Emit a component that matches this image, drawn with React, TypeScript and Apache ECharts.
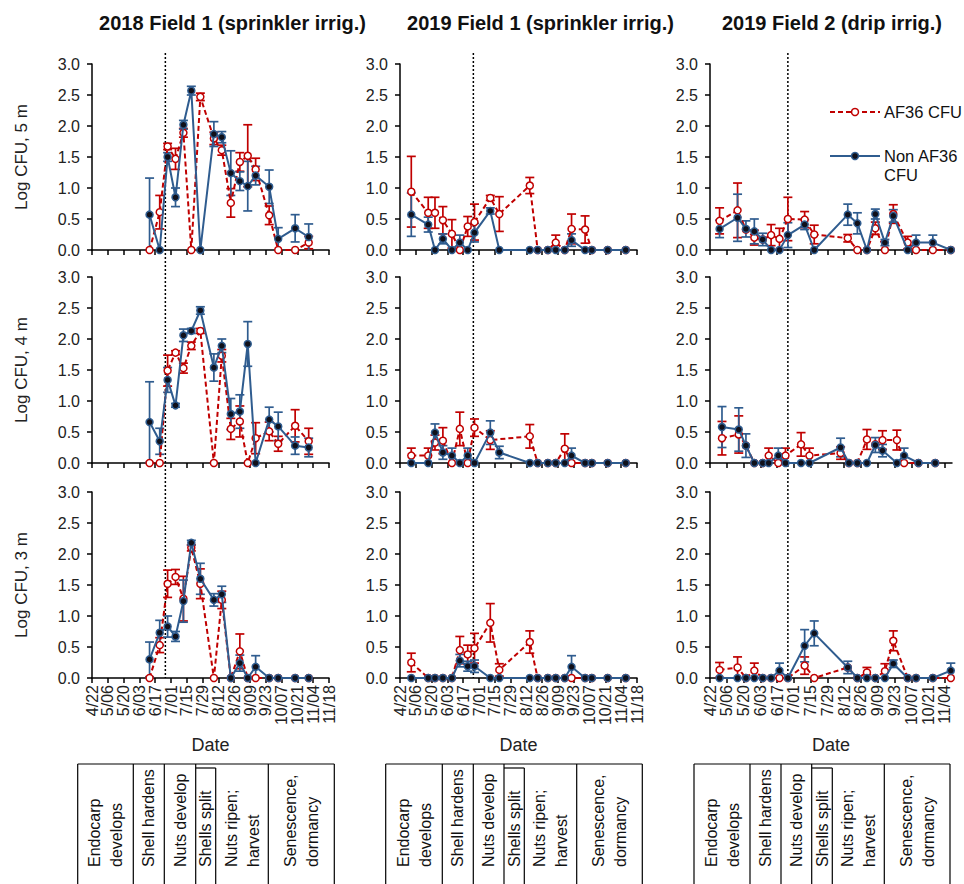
import React, { useEffect, useRef } from "react";
import * as echarts from "echarts";

const FONT = "'Liberation Sans', Arial, Helvetica, sans-serif";
const RED = "#C00000";
const BLUE = "#2F5C8F";
const DOT = "#10101a";

const TITLES = ["2018 Field 1 (sprinkler irrig.)", "2019 Field 1 (sprinkler irrig.)", "2019 Field 2 (drip irrig.)"];
const DEPTHS = ["Log CFU, 5 m", "Log CFU, 4 m", "Log CFU, 3 m"];
const X_TICKS = ["4/22", "5/06", "5/20", "6/03", "6/17", "7/01", "7/15", "7/29", "8/12", "8/26", "9/09", "9/23", "10/07", "10/21", "11/04", "11/18"];
const Y_TICKS = [0, 0.5, 1, 1.5, 2, 2.5, 3];
const AXIS_START = "4/22";
const AXIS_END = ["11/18", "11/18", "11/10"];
const MARKER_DATE = "6/26";
const SERIES_NAMES = ["AF36 CFU", "Non AF36 CFU"];
const LEGEND_LABELS = ["AF36 CFU", "Non AF36\nCFU"];
const STAGES = ["Endocarp\ndevelops", "Shell hardens", "Nuts develop", "Shells split", "Nuts ripen;\nharvest", "Senescence,\ndormancy"];

// ---- 2018 Field 1 ----
const DATES_2018 = ["6/12", "6/21", "6/28", "7/05", "7/12", "7/19", "7/27", "8/08", "8/15", "8/23", "8/31", "9/07", "9/14", "9/26", "10/04", "10/19", "10/31"];
const AF_2018_5M = [0, 0.61, 1.67, 1.47, 1.89, 0, 2.47, 1.8, 1.61, 0.76, 1.42, 1.52, 1.3, 0.56, 0, 0, 0.12];
const AF_2018_5M_SE = [0, 0.27, 0.05, 0.17, 0.07, 0, 0.06, 0.1, 0.08, 0.23, 0.15, 0.5, 0.18, 0.15, 0, 0, 0.1];
const NON_2018_5M = [0.57, 0, 1.5, 0.85, 2.02, 2.57, 0, 1.87, 1.82, 1.24, 1.11, 1.03, 1.2, 1.02, 0.18, 0.35, 0.21];
const NON_2018_5M_SE = [0.59, 0, 0.07, 0.15, 0.07, 0.07, 0, 0.2, 0.09, 0.36, 0.15, 0.4, 0.15, 0.27, 0.18, 0.22, 0.21];
const AF_2018_4M = [0, 0, 1.49, 1.78, 1.53, 1.89, 2.13, 0, 1.73, 0.55, 0.67, 0, 0.4, 0.51, 0.31, 0.6, 0.35];
const AF_2018_4M_SE = [0, 0, 0.25, 0.03, 0.08, 0.06, 0.04, 0, 0.1, 0.17, 0.25, 0, 0.25, 0.15, 0.12, 0.26, 0.21];
const NON_2018_4M = [0.66, 0.35, 1.34, 0.93, 2.06, 2.13, 2.46, 1.54, 1.89, 0.79, 0.83, 1.92, 0, 0.7, 0.59, 0.28, 0.25];
const NON_2018_4M_SE = [0.65, 0.21, 0.2, 0.03, 0.1, 0.04, 0.06, 0.22, 0.11, 0.25, 0.27, 0.36, 0, 0.2, 0.23, 0.14, 0.15];
const AF_2018_3M = [0, 0.53, 1.52, 1.63, 1.28, 2.1, 1.52, 0, 1.26, 0, 0.43, 0, 0, 0, 0, 0, 0];
const AF_2018_3M_SE = [0, 0.12, 0.22, 0.12, 0.36, 0.05, 0.24, 0, 0.14, 0, 0.28, 0, 0, 0, 0, 0, 0];
const NON_2018_3M = [0.3, 0.73, 0.83, 0.67, 1.24, 2.18, 1.6, 1.26, 1.35, 0, 0.24, 0, 0.18, 0, 0, 0, 0];
const NON_2018_3M_SE = [0.28, 0.2, 0.17, 0.08, 0.34, 0.04, 0.25, 0.1, 0.13, 0, 0.13, 0, 0.18, 0, 0, 0, 0];

// ---- 2019 Field 1 ----
const DATES_2019_F1 = ["5/02", "5/17", "5/23", "5/30", "6/07", "6/14", "6/21", "6/27", "7/11", "7/19", "8/15", "8/22", "8/31", "9/07", "9/15", "9/21", "10/03", "10/09", "10/23", "11/08"];
const AF_F1_5M = [0.94, 0.6, 0.6, 0.48, 0.26, 0, 0.38, 0.45, 0.84, 0.58, 1.04, 0, 0, 0.12, 0, 0.34, 0.33, 0, 0, 0];
const AF_F1_5M_SE = [0.57, 0.25, 0.25, 0.22, 0.23, 0, 0.16, 0.29, 0.04, 0.28, 0.13, 0, 0, 0.12, 0, 0.24, 0.22, 0, 0, 0];
const NON_F1_5M = [0.57, 0.41, 0, 0.18, 0, 0.12, 0, 0.28, 0.63, 0, 0, 0, 0, 0, 0, 0.16, 0, 0, 0, 0];
const NON_F1_5M_SE = [0.35, 0.12, 0, 0.08, 0, 0.12, 0, 0.15, 0.05, 0, 0, 0, 0, 0, 0, 0.1, 0, 0, 0, 0];
const AF_F1_4M = [0.12, 0.12, 0.33, 0.36, 0, 0.55, 0, 0.57, 0.37, null, 0.43, 0, 0, 0, 0.23, 0, 0, 0, 0, 0];
const AF_F1_4M_SE = [0.12, 0.12, 0.12, 0.21, 0, 0.27, 0, 0.14, 0.15, 0, 0.19, 0, 0, 0, 0.24, 0, 0, 0, 0, 0];
const NON_F1_4M = [0, 0, 0.49, 0.17, 0.12, 0, 0.12, 0, 0.49, 0.17, 0, 0, 0, 0, 0, 0.12, 0, 0, 0, 0];
const NON_F1_4M_SE = [0, 0, 0.14, 0.11, 0.12, 0, 0.12, 0, 0.19, 0.1, 0, 0, 0, 0, 0, 0.12, 0, 0, 0, 0];
const AF_F1_3M = [0.25, 0, 0, 0, 0, 0.45, 0.38, 0.48, 0.89, 0.13, 0.58, 0, 0, 0, 0, 0, 0, 0, 0, 0];
const AF_F1_3M_SE = [0.15, 0, 0, 0, 0, 0.22, 0.15, 0.24, 0.31, 0.1, 0.18, 0, 0, 0, 0, 0, 0, 0, 0, 0];
const NON_F1_3M = [0, 0, 0, 0, 0, 0.28, 0.19, 0.19, 0, 0, 0, 0, 0, 0, 0, 0.18, 0, 0, 0, 0];
const NON_F1_3M_SE = [0, 0, 0, 0, 0, 0.1, 0.08, 0.1, 0, 0, 0, 0, 0, 0, 0, 0.18, 0, 0, 0, 0];

// ---- 2019 Field 2 ----
const DATES_2019_F2 = ["4/30", "5/15", "5/22", "5/29", "6/05", "6/12", "6/19", "6/26", "7/10", "7/18", "8/15", "8/23", "8/31", "9/07", "9/15", "9/22", "10/04", "10/11", "10/25", "11/09"];
const DATES_2019_F2_4M = ["5/02", "5/16", "5/22", "5/29", "6/05", "6/10", "6/18", "6/24", "7/07", "7/14", "8/09", "8/16", "8/23", "8/31", "9/07", "9/13", "9/25", "10/01", "10/13", "10/27"];
const AF_F2_5M = [0.47, 0.64, 0.33, 0.2, 0.17, 0.24, 0.18, 0.5, 0.49, 0.25, 0.19, 0, 0, 0.35, 0, 0.58, 0.12, 0, 0, 0];
const AF_F2_5M_SE = [0.21, 0.44, 0, 0.12, 0, 0.17, 0.17, 0.35, 0.13, 0.15, 0.06, 0, 0, 0.1, 0, 0.15, 0.1, 0, 0, 0];
const NON_F2_5M = [0.34, 0.52, 0.34, 0.3, 0.17, 0, 0, 0.24, 0.41, 0, 0.57, 0.43, 0, 0.58, 0.12, 0.55, 0, 0.12, 0.12, 0];
const NON_F2_5M_SE = [0.14, 0.38, 0.13, 0.2, 0.1, 0, 0, 0.2, 0.08, 0, 0.17, 0.17, 0, 0.08, 0.05, 0.1, 0, 0.12, 0.12, 0];
const AF_F2_4M = [0.4, 0.46, 0.28, 0, 0, 0.12, 0, 0.12, 0.3, 0.12, 0.16, 0, 0, 0.38, 0.3, 0.37, 0.37, 0, 0, 0];
const AF_F2_4M_SE = [0.27, 0.3, 0, 0, 0, 0.12, 0, 0.12, 0.19, 0.12, 0.1, 0, 0, 0.16, 0, 0.15, 0.16, 0, 0, 0];
const NON_F2_4M = [0.58, 0.54, 0.28, 0, 0, 0, 0.12, 0, 0, 0, 0.25, 0, 0, 0, 0.29, 0.2, 0, 0.12, 0, 0];
const NON_F2_4M_SE = [0.33, 0.35, 0.19, 0, 0, 0, 0.12, 0, 0, 0, 0.15, 0, 0, 0, 0.12, 0.1, 0, 0.12, 0, 0];
const AF_F2_3M = [0.13, 0.17, 0, 0.12, 0, 0, 0, 0, 0.2, 0, 0.17, 0, 0.09, 0, 0.11, 0.6, 0, 0, 0, 0];
const AF_F2_3M_SE = [0.12, 0.17, 0, 0.12, 0, 0, 0, 0, 0.14, 0, 0, 0, 0.08, 0, 0.12, 0.16, 0, 0, 0, 0];
const NON_F2_3M = [0, 0, 0, 0, 0, 0, 0.12, 0, 0.52, 0.72, 0.17, 0, 0, 0, 0, 0.23, 0, 0, 0, 0.12];
const NON_F2_3M_SE = [0, 0, 0, 0, 0, 0, 0.12, 0, 0.26, 0.2, 0.1, 0, 0, 0, 0, 0.06, 0, 0, 0, 0.12];

// panels: index = row * 3 + col
const PANELS = [
  [DATES_2018, AF_2018_5M, AF_2018_5M_SE, NON_2018_5M, NON_2018_5M_SE],
  [DATES_2019_F1, AF_F1_5M, AF_F1_5M_SE, NON_F1_5M, NON_F1_5M_SE],
  [DATES_2019_F2, AF_F2_5M, AF_F2_5M_SE, NON_F2_5M, NON_F2_5M_SE],
  [DATES_2018, AF_2018_4M, AF_2018_4M_SE, NON_2018_4M, NON_2018_4M_SE],
  [DATES_2019_F1, AF_F1_4M, AF_F1_4M_SE, NON_F1_4M, NON_F1_4M_SE],
  [DATES_2019_F2_4M, AF_F2_4M, AF_F2_4M_SE, NON_F2_4M, NON_F2_4M_SE],
  [DATES_2018, AF_2018_3M, AF_2018_3M_SE, NON_2018_3M, NON_2018_3M_SE],
  [DATES_2019_F1, AF_F1_3M, AF_F1_3M_SE, NON_F1_3M, NON_F1_3M_SE],
  [DATES_2019_F2, AF_F2_3M, AF_F2_3M_SE, NON_F2_3M, NON_F2_3M_SE],
] as any[];

// layout
const COL_LEFT = [92, 400, 710];
const COL_WIDTH = [237, 237, 242];
const ROW_TOP = [64, 277, 492];
const GRID_H = 186;
const TABLE_X = [
  [77.7, 133.3, 164.3, 195.7, 215.7, 268.3, 334.3],
  [385.7, 442.3, 473.3, 504, 524.3, 576.7, 642.3],
  [694, 750, 781, 811.7, 832.3, 884.3, 950],
];
const TABLE_TOP = 764;
const TABLE_TEXT_BASE = 869;

function toDay(s: string): number {
  const [m, d] = s.split("/").map(Number);
  const [m0, d0] = AXIS_START.split("/").map(Number);
  return Math.round((Date.UTC(2019, m - 1, d) - Date.UTC(2019, m0 - 1, d0)) / 86400000);
}

const X_TICK_DAYS = X_TICKS.map(toDay);

function dateLabel(v: number) {
  const k = X_TICK_DAYS.indexOf(Math.round(v));
  return k >= 0 ? X_TICKS[k] : "";
}

function errSeries(idx: number, color: string, dates: string[], vals: any[], errs: number[]) {
  const data = dates
    .map((d, k) => [toDay(d), vals[k], errs[k]])
    .filter((r) => r[1] != null && (r[2] as number) > 0);
  return {
    type: "custom",
    xAxisIndex: idx,
    yAxisIndex: idx,
    silent: true,
    z: 2,
    encode: { x: 0, y: 1 },
    data,
    renderItem: (_p: any, api: any) => {
      const x = api.value(0);
      const y = api.value(1);
      const e = api.value(2);
      const lo = y - e;
      const p1 = api.coord([x, Math.min(3, y + e)]);
      const p2 = api.coord([x, Math.max(0, lo)]);
      const w = 4.5;
      const mk = () => ({ stroke: color, lineWidth: 1.7 });
      const children: any[] = [
        { type: "line", shape: { x1: p1[0], y1: p1[1], x2: p2[0], y2: p2[1] }, style: mk() },
        { type: "line", shape: { x1: p1[0] - w, y1: p1[1], x2: p1[0] + w, y2: p1[1] }, style: mk() },
      ];
      if (lo > 0) children.push({ type: "line", shape: { x1: p2[0] - w, y1: p2[1], x2: p2[0] + w, y2: p2[1] }, style: mk() });
      return { type: "group", children };
    },
  };
}

function txt(x: number, y: number, text: string, font: string, align: string, vAlign: string, extra: any = {}) {
  return {
    type: "text",
    x,
    y,
    style: { text, font, fill: "#111", align, verticalAlign: vAlign, textAlign: align, textVerticalAlign: vAlign, ...extra },
  };
}

const dateLabelStyle = (show: boolean, values: number[]) => ({
  show,
  rotate: 90,
  fontSize: 16,
  color: "#222",
  margin: 7,
  interval: 0,
  showMinLabel: true,
  showMaxLabel: true,
  hideOverlap: false,
  fontFamily: FONT,
  customValues: values,
  formatter: dateLabel,
});

export default function App() {
  const ref = useRef<HTMLDivElement>(null);
  useEffect(() => {
    if (!ref.current) return;
    const chart = echarts.init(ref.current, undefined, { renderer: "svg" });
    const grids: any[] = [];
    const xAxes: any[] = [];
    const yAxes: any[] = [];
    const series: any[] = [];
    for (let i = 0; i < 9; i++) {
      const row = Math.floor(i / 3);
      const col = i % 3;
      const max = toDay(AXIS_END[col]);
      const ticks = X_TICK_DAYS.filter((v) => v <= max);
      grids.push({ left: COL_LEFT[col], top: ROW_TOP[row], width: COL_WIDTH[col], height: GRID_H, containLabel: false });
      xAxes.push({
        gridIndex: i,
        type: "value",
        position: "bottom",
        min: 0,
        max,
        interval: 14,
        axisLine: { show: true, onZero: false, lineStyle: { color: "#000", width: 1.5 } },
        axisTick: { show: true, length: 5, customValues: ticks, lineStyle: { color: "#000", width: 1.5 } },
        axisLabel: dateLabelStyle(row === 2, ticks.filter((_, k) => k % 2 === 0)),
        splitLine: { show: false },
        name: row === 2 ? "Date" : "",
        nameLocation: "middle",
        nameGap: 58,
        nameTextStyle: { fontSize: 18, color: "#222", fontFamily: FONT },
      });
      yAxes.push({
        gridIndex: i,
        type: "value",
        min: Y_TICKS[0],
        max: Y_TICKS[Y_TICKS.length - 1],
        interval: Y_TICKS[1] - Y_TICKS[0],
        axisLine: { show: true, lineStyle: { color: "#000", width: 1.5 } },
        axisTick: { show: true, length: 5, lineStyle: { color: "#000", width: 1.5 } },
        axisLabel: { fontSize: 16, color: "#222", margin: 12, fontFamily: FONT, formatter: (v: number) => v.toFixed(1) },
        splitLine: { show: false },
        name: col === 0 ? DEPTHS[row] : "",
        nameLocation: "middle",
        nameGap: 62,
        nameTextStyle: { fontSize: 17, color: "#222", fontFamily: FONT },
      });
      const [dates, af, afErr, non, nonErr] = PANELS[i];
      series.push(errSeries(i, RED, dates, af, afErr));
      series.push(errSeries(i, BLUE, dates, non, nonErr));
      series.push({
        name: SERIES_NAMES[0],
        type: "line",
        xAxisIndex: i,
        yAxisIndex: i,
        data: dates.map((d: string, k: number) => [toDay(d), af[k]]),
        connectNulls: true,
        symbol: "circle",
        symbolSize: 7,
        lineStyle: { color: RED, width: 2, type: [5, 3] },
        itemStyle: { color: "#fff", borderColor: RED, borderWidth: 1.5 },
        z: 3,
        silent: true,
      });
      series.push({
        name: SERIES_NAMES[1],
        type: "line",
        xAxisIndex: i,
        yAxisIndex: i,
        data: dates.map((d: string, k: number) => [toDay(d), non[k]]),
        connectNulls: true,
        symbol: "circle",
        symbolSize: 7,
        lineStyle: { color: BLUE, width: 2 },
        itemStyle: { color: DOT, borderColor: BLUE, borderWidth: 1.5 },
        z: 4,
        silent: true,
      });
    }

    // phenology tables: rotated stage names drawn as labels of a bare axis (x axes 9..11)
    for (let t = 0; t < 3; t++) {
      const xs = TABLE_X[t];
      const gi = 9 + t;
      const centers = STAGES.map((_, k) => (xs[k] + xs[k + 1]) / 2);
      grids.push({ left: xs[0], top: TABLE_TEXT_BASE, width: xs[6] - xs[0], height: 10, containLabel: false });
      xAxes.push({
        gridIndex: gi,
        type: "value",
        position: "top",
        min: xs[0],
        max: xs[6],
        axisLine: { show: false },
        axisTick: { show: false },
        splitLine: { show: false },
        axisLabel: {
          show: true,
          rotate: 90,
          margin: 2,
          fontSize: 16,
          lineHeight: 22,
          color: "#111",
          fontFamily: FONT,
          interval: 0,
          showMinLabel: true,
          showMaxLabel: true,
          hideOverlap: false,
          customValues: centers,
          formatter: (v: number) => {
            let best = 0;
            centers.forEach((c, k) => {
              if (Math.abs(c - v) < Math.abs(centers[best] - v)) best = k;
            });
            return STAGES[best];
          },
        },
      });
      yAxes.push({ gridIndex: gi, type: "value", show: false, min: 0, max: 1 });
      series.push({ type: "line", xAxisIndex: gi, yAxisIndex: gi, data: [], silent: true });
    }

    // second label row for the bottom date axes (odd ticks), x axes 12..14
    for (let c = 0; c < 3; c++) {
      const gi = 6 + c;
      const max = toDay(AXIS_END[c]);
      const ticks = X_TICK_DAYS.filter((v) => v <= max);
      xAxes.push({
        gridIndex: gi,
        type: "value",
        position: "bottom",
        offset: 0,
        min: 0,
        max,
        interval: 14,
        axisLine: { show: false },
        axisTick: { show: false },
        splitLine: { show: false },
        axisLabel: dateLabelStyle(true, ticks.filter((_, k) => k % 2 === 1)),
      });
      series.push({ type: "line", xAxisIndex: 12 + c, yAxisIndex: gi, data: [], silent: true });
    }

    chart.setOption({
      animation: false,
      backgroundColor: "#fff",
      textStyle: { fontFamily: FONT },
      title: TITLES.map((t, c) => ({
        text: t,
        left: COL_LEFT[c] + COL_WIDTH[c] / 2 + (c === 2 ? 1 : 22),
        top: 13,
        padding: 0,
        textAlign: "center",
        textStyle: { fontSize: 20, fontWeight: "bold", color: "#111", fontFamily: FONT },
      })),
      grid: grids,
      xAxis: xAxes,
      yAxis: yAxes,
      series,
    });

    const els: any[] = [];
    // vertical reference line (6/26) through each column
    for (let c = 0; c < 3; c++) {
      const x = chart.convertToPixel({ xAxisIndex: c } as any, toDay(MARKER_DATE)) as unknown as number;
      const yTop = (chart.convertToPixel({ yAxisIndex: c } as any, 3) as unknown as number) - 11;
      const yBot = chart.convertToPixel({ yAxisIndex: 6 + c } as any, 0) as unknown as number;
      els.push({
        type: "line",
        shape: { x1: x, y1: yTop, x2: x, y2: yBot },
        style: { stroke: "#000", lineWidth: 1.5, lineDash: [2, 2] },
        z: 1,
        silent: true,
      });
    }
    // legend
    const lfont = `16.5px ${FONT}`;
    const ly = [112, 156];
    els.push({ type: "line", shape: { x1: 830, y1: ly[0], x2: 880, y2: ly[0] }, style: { stroke: RED, lineWidth: 2, lineDash: [5, 3] }, z: 5 });
    els.push({ type: "circle", shape: { cx: 855, cy: ly[0], r: 3.5 }, style: { fill: "#fff", stroke: RED, lineWidth: 1.5 }, z: 6 });
    els.push({ ...txt(884, ly[0], LEGEND_LABELS[0], lfont, "left", "middle"), z: 6 });
    els.push({ type: "line", shape: { x1: 830, y1: ly[1], x2: 880, y2: ly[1] }, style: { stroke: BLUE, lineWidth: 2 }, z: 5 });
    els.push({ type: "circle", shape: { cx: 855, cy: ly[1], r: 3.5 }, style: { fill: DOT, stroke: BLUE, lineWidth: 1.5 }, z: 6 });
    els.push({ ...txt(884, ly[1] - 9.5, LEGEND_LABELS[1], lfont, "left", "top", { lineHeight: 19 }), z: 6 });

    // table borders
    const bottom = 884;
    for (let t = 0; t < 3; t++) {
      const xs = TABLE_X[t];
      els.push({ type: "line", shape: { x1: xs[0], y1: TABLE_TOP, x2: xs[6], y2: TABLE_TOP }, style: { stroke: "#000", lineWidth: 1.2 } });
      els.push({ type: "line", shape: { x1: xs[3], y1: TABLE_TOP + 4, x2: xs[4], y2: TABLE_TOP + 4 }, style: { stroke: "#000", lineWidth: 1.2 } });
      xs.forEach((x, k) => {
        els.push({ type: "line", shape: { x1: x, y1: k === 4 ? TABLE_TOP + 4 : TABLE_TOP, x2: x, y2: bottom }, style: { stroke: "#000", lineWidth: 1.2 } });
      });
    }
    chart.setOption({ graphic: { elements: els } });

    return () => chart.dispose();
  }, []);
  return <div ref={ref} style={{ position: "absolute", left: 0, top: 0, width: 964, height: 884 }} />;
}
